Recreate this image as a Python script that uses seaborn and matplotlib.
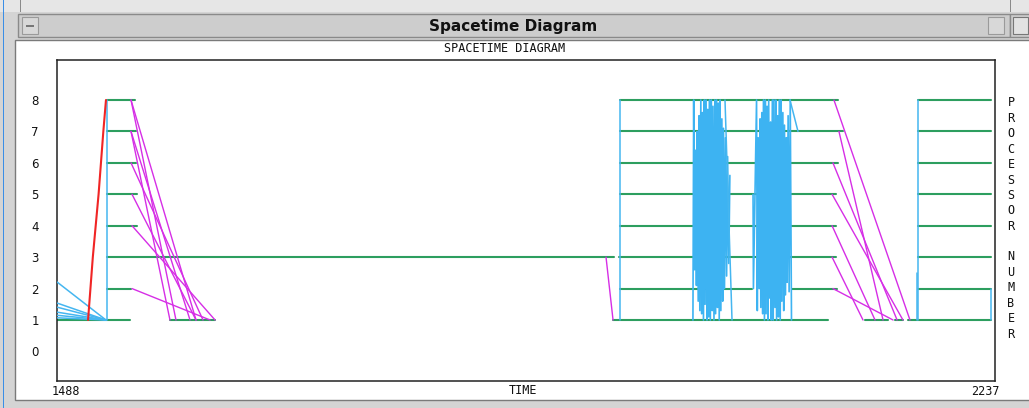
import matplotlib
matplotlib.use("Agg")
import matplotlib.pyplot as plt
from matplotlib.patches import Rectangle
import matplotlib.transforms as mtransforms
import pandas as pd
import seaborn as sns

# ---------------- data (time units, processor numbers) ----------------
x_ticks = [1488, 2237]
y_ticks = [0, 1, 2, 3, 4, 5, 6, 7, 8]

# busy intervals (green)
busy_proc = [1, 1, 2, 3, 4, 5, 6, 7, 8,
             1, 2, 2, 3, 4, 5, 6, 7, 8,
             1, 1, 1, 2, 3, 4, 5, 6, 7, 8]
busy_start = [1488.0, 1578.2, 1527.9, 1527.9, 1527.9, 1527.9, 1527.9, 1527.9, 1527.9,
              1932.0, 1937.6, 2074.9, 1936.8, 1937.6, 1937.6, 1937.6, 1937.6, 1937.6,
              2133.2, 2157.2, 2167.5, 2175.5, 2175.5, 2175.5, 2175.5, 2175.5, 2175.5, 2175.5]
busy_end = [1546.3, 1614.2, 1547.1, 1932.8, 1551.9, 1551.9, 1551.1, 1551.1, 1550.3,
            2103.7, 2043.0, 2110.8, 2110.0, 2110.0, 2110.0, 2111.6, 2115.6, 2111.6,
            2151.6, 2163.5, 2233.8, 2233.8, 2233.8, 2233.8, 2233.8, 2233.8, 2233.8, 2233.8]

# reduction messages (magenta)
mag_t0 = [1547.1, 1547.1, 1547.1, 1547.1, 1547.1, 1547.9, 1547.9, 1547.9,
          1926.4, 2108.4, 2112.4, 2107.6, 2106.9, 2106.9, 2106.9, 2107.6]
mag_p0 = [8, 8, 7, 7, 6, 5, 4, 2, 3, 8, 7, 6, 5, 4, 3, 2]
mag_t1 = [1583.0, 1599.0, 1578.2, 1594.2, 1604.6, 1599.0, 1614.2, 1610.2,
          1932.0, 2169.1, 2147.6, 2158.8, 2163.5, 2141.2, 2131.6, 2155.6]
mag_p1 = [1, 1, 1, 1, 1, 1, 1, 1, 1, 1, 1, 1, 1, 1, 1, 1]

# point-to-point / broadcast messages (light blue)
blue_t0 = [1488.0, 1488.0, 1488.0, 1488.0, 1488.0, 1488.0, 1527.9, 1937.6,
           2021.4, 2073.3, 2175.5, 2174.7, 2233.8]
blue_p0 = [2.21, 1.54, 1.41, 1.25, 1.15, 1.07, 1, 1, 8, 8, 1, 1, 1]
blue_t1 = [1527.1, 1527.1, 1527.1, 1527.1, 1527.1, 1527.1, 1527.9, 1937.6,
           2027.0, 2079.7, 2175.5, 2174.7, 2233.8]
blue_p1 = [1, 1, 1, 1, 1, 1, 8, 8, 1, 7, 8, 2.5, 2]

# dense exchange bursts (light blue)
burst1_t = [1995.8, 1996.4, 1997.1, 1997.9, 1998.6, 1999.2, 2000.0, 2000.7, 2001.3, 2002.1,
            2002.8, 2003.4, 2004.2, 2004.9, 2005.5, 2006.3, 2007.0, 2007.6, 2008.4, 2009.1,
            2009.7, 2010.5, 2011.2, 2011.8, 2012.6, 2013.3, 2013.9, 2014.7, 2015.4, 2016.0,
            2016.8, 2017.5, 2018.1, 2018.9, 2019.6, 2020.2, 2021.0, 2021.8, 2022.7, 2023.5,
            2024.4, 2025.3]
burst1_p = [1, 8, 2.6, 6.4, 2.1, 7.0, 1.6, 7.5, 1.3, 8,
            1.2, 7.6, 1, 8, 1.5, 8, 1, 7.7, 1.1, 8,
            1, 8, 1.3, 7.8, 1, 8, 1.2, 8, 1.4, 7.9,
            1, 8, 1.3, 7.4, 1.6, 7.1, 2.0, 6.8, 2.4, 6.2,
            2.8, 5.6]
burst2_t = [2043.8, 2044.1, 2046.6, 2047.2, 2047.9, 2048.7, 2049.4, 2050.0, 2050.8, 2051.5,
            2052.1, 2052.9, 2053.6, 2054.2, 2055.0, 2055.7, 2056.3, 2057.1, 2057.8, 2058.4,
            2059.2, 2059.9, 2060.5, 2061.3, 2062.0, 2062.6, 2063.4, 2064.1, 2064.7, 2065.5,
            2066.2, 2066.8, 2067.6, 2068.3, 2068.9, 2069.7, 2070.4, 2071.0, 2071.8, 2072.6,
            2073.5, 2074.5]
burst2_p = [5, 2, 8, 1.3, 6.8, 2.0, 7.4, 1.4, 7.6, 1.2,
            8, 1, 8, 1.2, 7.8, 1, 8, 1.7, 7.3, 1,
            8, 1, 8, 1.4, 8, 1, 7.5, 1.1, 8, 1,
            8, 1.6, 7.6, 1.3, 7.2, 1.8, 6.8, 2.2, 7.5, 1.9,
            8, 1]

# startup message (red)
red_t = [1512.8, 1516.6, 1521.2, 1525.0, 1527.1]
red_p = [1, 3, 5, 7, 8]


def seg_frame(t0, p0, t1, p1):
    rows = []
    for i, (a, b, c, d) in enumerate(zip(t0, p0, t1, p1)):
        rows.append((i, a, b))
        rows.append((i, c, d))
    return pd.DataFrame(rows, columns=["id", "time", "proc"])


busy_df = seg_frame(busy_start, busy_proc, busy_end, busy_proc)
mag_df = seg_frame(mag_t0, mag_p0, mag_t1, mag_p1)
blue_df = seg_frame(blue_t0, blue_p0, blue_t1, blue_p1)
burst_df = pd.concat([
    pd.DataFrame({"id": 0, "time": burst1_t, "proc": burst1_p}),
    pd.DataFrame({"id": 1, "time": burst2_t, "proc": burst2_p}),
], ignore_index=True)
red_df = pd.DataFrame({"id": 0, "time": red_t, "proc": red_p})

# ---------------- figure / window chrome ----------------
sns.set_style("white")
plt.rcParams["font.family"] = ["DejaVu Sans"]

W, H = 1029, 408
fig = plt.figure(figsize=(W / 100, H / 100), dpi=100)
fig.patch.set_facecolor("#d4d4d4")


def fx(x):
    return x / W


def fy(y):
    return 1 - y / H


def chrome(x0, y0, x1, y1, fc, ec, lw=1.0, z=-5):
    fig.patches.append(Rectangle((fx(x0), fy(y1)), (x1 - x0) / W, (y1 - y0) / H,
                                 transform=fig.transFigure, facecolor=fc,
                                 edgecolor=ec, lw=lw, zorder=z))


chrome(0, 0, 1040, 12, "#e6e6e6", "none", 0, -11)       # light top strip
chrome(19.5, 0, 20.5, 12, "#8a8a8a", "none", 0, -10)
chrome(1009.5, 0, 1010.5, 12, "#8a8a8a", "none", 0, -10)
chrome(15, 40, 1040, 400, "white", "#7a7a7a", z=-10)     # white panel
chrome(18, 14, 1010, 37, "#cdcdcd", "#8a8a8a", z=-9)     # title bar
chrome(1010, 14, 1040, 37, "#cdcdcd", "#8a8a8a", z=-9)
chrome(22, 17, 38, 34, "#d8d8d8", "#9a9a9a", 0.8, -8)    # buttons
chrome(26, 25, 34, 27, "#777777", "none", 0, -7)
chrome(988, 17, 1004, 34, "#d8d8d8", "#9a9a9a", 0.8, -8)
chrome(1013, 17, 1028, 34, "#e2e2e2", "#777777", 0.8, -8)
chrome(3, 0, 4.2, 408, "#3a8ee6", "none", 0, -8)

fig.text(fx(513), fy(27), "Spacetime Diagram", ha="center", va="center",
         fontsize=11, fontweight="bold", color="#111111")

# ---------------- plot axes ----------------
L, R, T, B = 57, 995, 60, 381
ax = fig.add_axes([fx(L), fy(B), (R - L) / W, (B - T) / H])
ax.set_zorder(10)
ax.set_facecolor("white")

common = dict(x="time", y="proc", units="id", estimator=None, sort=False,
              legend=False, ax=ax)
sns.lineplot(data=busy_df, color="#2d9e5f", lw=1.5, zorder=2, **common)
sns.lineplot(data=burst_df, color="#3db3f2", lw=1.2, zorder=3, **common)
sns.lineplot(data=blue_df, color="#45b6f0", lw=1.1, zorder=3, **common)
sns.lineplot(data=mag_df, color="#d62ee6", lw=1.0, zorder=4, **common)
sns.lineplot(data=red_df, color="#f02525", lw=1.5, zorder=5, **common)

ax.set_xlim(1488, 2237)
ax.set_ylim(-0.941, 9.273)
ax.set_xlabel("")
ax.set_ylabel("")
ax.set_yticks(y_ticks)
ax.set_yticklabels([str(v) for v in y_ticks], fontsize=8.5, color="#111111")
ax.tick_params(axis="y", length=0, pad=13)
ax.set_xticks(x_ticks)
ax.set_xticklabels([str(v) for v in x_ticks], fontsize=8.5,
                   family="DejaVu Sans Mono", color="#111111")
ax.tick_params(axis="x", length=0, pad=3)
xl = ax.get_xticklabels()
xl[0].set_ha("left")
xl[1].set_ha("right")
xl[0].set_transform(xl[0].get_transform() +
                    mtransforms.ScaledTranslation(-5 / 100, 0, fig.dpi_scale_trans))
xl[1].set_transform(xl[1].get_transform() +
                    mtransforms.ScaledTranslation(5 / 100, 0, fig.dpi_scale_trans))

for s in ax.spines.values():
    s.set_visible(True)
    s.set_color("#222222")
    s.set_linewidth(1.1)

fig.text(fx(505), fy(48), "SPACETIME DIAGRAM", ha="center", va="center",
         fontsize=8.5, family="DejaVu Sans Mono", color="#111111")
fig.text(fx(523), fy(390), "TIME", ha="center", va="center",
         fontsize=8.5, family="DejaVu Sans Mono", color="#111111")

label = "PROCESSOR NUMBER"
for i, ch in enumerate(label):
    if ch != " ":
        fig.text(fx(1011), fy(103 + i * 15.4), ch, ha="center", va="center",
                 fontsize=8.5, family="DejaVu Sans Mono", color="#111111")

fig.savefig("out.png", dpi=100, facecolor=fig.get_facecolor())
